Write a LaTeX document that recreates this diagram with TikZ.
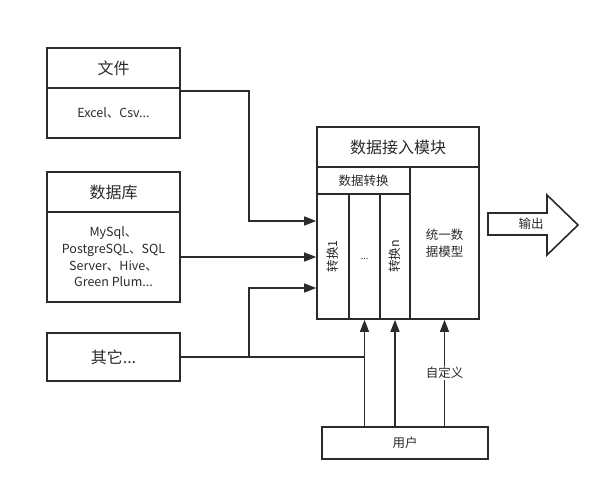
\documentclass[tikz,border=0pt]{standalone}
\usepackage{fontspec}
\setmainfont{Noto Sans CJK SC}
\usepackage{xcolor}
\usetikzlibrary{arrows.meta}
\definecolor{ink}{HTML}{2B2B2B}

\begin{document}
\begin{tikzpicture}[x=1pt,y=-1pt,ink,
	box/.style={draw,line width=1.6pt,inner sep=0pt,align=center,
		font=\fontsize{12.5}{16.7}\selectfont},
	head/.style={box,font=\fontsize{16}{19}\selectfont},
	arr/.style={line width=1.4pt,-{Triangle[length=12pt,width=9pt]}}]
	\fill[white] (0,0) rectangle (610,491);
	\useasboundingbox (0,0) rectangle (610,491);

	% sources
	\node[head,minimum width=133pt,minimum height=40pt] (file) at (113.5,68) {文件};
	\node[box,minimum width=133pt,minimum height=50pt] (filebody) at (113.5,113) {Excel、Csv...};
	\node[head,minimum width=133pt,minimum height=40pt] (db) at (113.5,192) {数据库};
	\node[box,minimum width=133pt,minimum height=90pt] (dbbody) at (113.5,257)
		{MySql、\\PostgreSQL、SQL\\Server、Hive、\\Green Plum...};
	\node[head,minimum width=133pt,minimum height=48pt] (other) at (113.5,357) {其它...};

%	====================================================================
	\node[head,minimum width=162pt,minimum height=40pt] (main) at (398,147) {数据接入模块};
	\node[box,minimum width=93pt,minimum height=27pt] (conv) at (363.5,180.5) {数据转换};
	\node[box,minimum width=32pt,minimum height=125pt] (col1) at (333,256.5) {};
	\node[box,minimum width=31pt,minimum height=125pt] (col2) at (364.5,256.5) {};
	\node[box,minimum width=30pt,minimum height=125pt] (col3) at (395,256.5) {};
	\node[box,minimum width=69pt,minimum height=152pt] (model) at (444.5,243) {统一数\\据模型};
	\node[rotate=90,font=\fontsize{12.5}{15}\selectfont] (t1) at (col1) {转换1};
	\node[font=\fontsize{9}{11}\selectfont] (t2) at (364.5,259) {...};
	\node[rotate=90,font=\fontsize{12.5}{15}\selectfont] (tn) at (col3) {转换n};

	\node[box,minimum width=166pt,minimum height=32pt] (user) at (405,443) {用户};

	% output
	\draw[line width=1.6pt,line join=miter] (488,213) -- (547,213) -- (547,195) -- (578,225)
		-- (547,255) -- (547,235) -- (488,235) -- cycle;
	\node[font=\fontsize{12.5}{15}\selectfont] (out) at (531,224) {输出};

%	====================================================================
	\coordinate (j1) at (249,221);
	\coordinate (j3) at (249,288);
	\draw[arr] ([yshift=22pt]filebody.east) -| (j1) -- (col1.west |- j1);
	\draw[arr] (dbbody.east) -- (dbbody.east -| col1.west);
	\draw[arr] (other.east) -| (j3) -- (col1.west |- j3);
	\draw[line width=1.4pt] (other.east) -- (other.east -| col2.south);

	\draw[arr] (user.north -| col2.south) -- (col2.south);
	\draw[arr] (user.north -| col3.south) -- (col3.south);
	\draw[arr] (user.north -| model.south) -- node[fill=white,inner sep=1pt,
		font=\fontsize{12.5}{15}\selectfont] (custom) {自定义} (model.south);
\end{tikzpicture}
\end{document}
